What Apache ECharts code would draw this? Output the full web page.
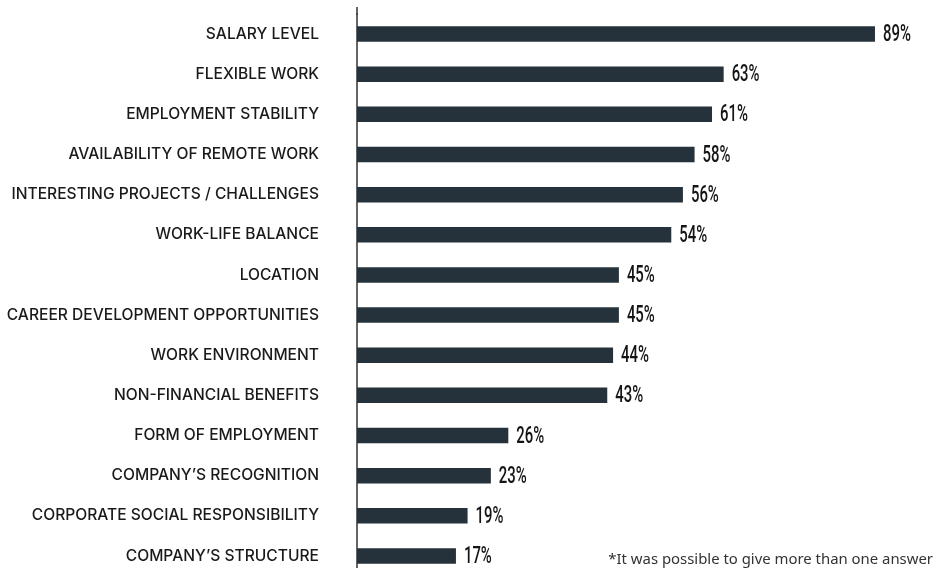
<!DOCTYPE html>
<html>
<head>
<meta charset="utf-8">
<script src="https://cdn.jsdelivr.net/npm/echarts@6/dist/echarts.min.js"></script>
<style>
html,body{margin:0;padding:0;background:#fff;}
#main{width:939px;height:568px;}
</style>
</head>
<body>
<div id="main"></div>
<script>
const categories = [
  "SALARY LEVEL",
  "FLEXIBLE WORK",
  "EMPLOYMENT STABILITY",
  "AVAILABILITY OF REMOTE WORK",
  "INTERESTING PROJECTS / CHALLENGES",
  "WORK-LIFE BALANCE",
  "LOCATION",
  "CAREER DEVELOPMENT OPPORTUNITIES",
  "WORK ENVIRONMENT",
  "NON-FINANCIAL BENEFITS",
  "FORM OF EMPLOYMENT",
  "COMPANY\u2019S RECOGNITION",
  "CORPORATE SOCIAL RESPONSIBILITY",
  "COMPANY\u2019S STRUCTURE"
];
const values = [89, 63, 61, 58, 56, 54, 45, 45, 44, 43, 26, 23, 19, 17];
const footnote = "*It was possible to give more than one answer";

const chart = echarts.init(document.getElementById('main'), null, {renderer: 'canvas'});
chart.setOption({
  animation: false,
  backgroundColor: '#ffffff',
  title: {
    text: footnote,
    right: 6,
    bottom: 1,
    padding: 0,
    textStyle: {fontFamily: 'Noto Sans', fontSize: 14.9, fontWeight: 'normal', color: '#333333'}
  },
  grid: {left: 357, right: 0, top: 14, height: 562, outerBoundsMode: 'none', containLabel: false},
  xAxis: {type: 'value', min: 0, max: 100, show: false},
  yAxis: {
    type: 'category',
    inverse: true,
    data: categories,
    axisLine: {show: true, lineStyle: {color: '#333333', width: 1.5}},
    axisTick: {show: false},
    axisLabel: {margin: 38, fontFamily: 'Inter', fontSize: 15.6, fontWeight: 500, color: '#1a1a1a'}
  },
  series: [{
    type: 'bar',
    data: values,
    barWidth: 15.5,
    itemStyle: {color: '#25323b'}
  }, {
    type: 'custom',
    data: values.map((v, i) => [v, i]),
    encode: {x: 0, y: 1},
    silent: true,
    renderItem: function (params, api) {
      const p = api.coord([api.value(0), api.value(1)]);
      return {
        type: 'text',
        x: p[0] + 8,
        y: p[1] + 1,
        scaleX: 0.62,
        style: {
          text: api.value(0) + '%',
          font: '500 24px Roboto',
          fill: '#151515',
          verticalAlign: 'middle',
          align: 'left'
        }
      };
    }
  }]
});

// extend the y-axis line slightly above the first band, as in the original
const x0 = chart.convertToPixel({xAxisIndex: 0}, 0);
const y0 = chart.convertToPixel({yAxisIndex: 0}, 0);
const y1 = chart.convertToPixel({yAxisIndex: 0}, 1);
const gridTop = y0 - (y1 - y0) / 2;
chart.setOption({
  graphic: [{
    type: 'line',
    shape: {x1: x0, y1: gridTop - 7, x2: x0, y2: gridTop + 1},
    style: {stroke: '#333333', lineWidth: 1.5},
    silent: true
  }]
});
</script>
</body>
</html>
